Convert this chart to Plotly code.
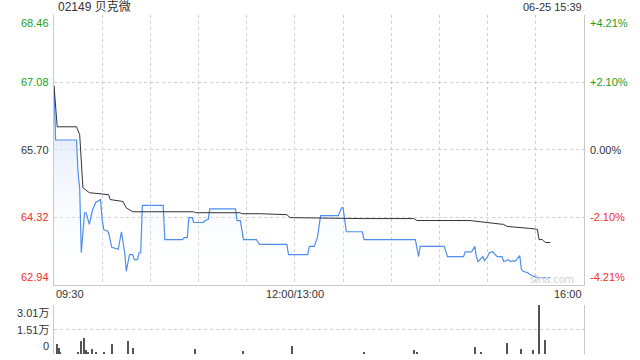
import plotly.graph_objects as go

# ---------------- data ----------------
title_text = "02149 贝克微"
stamp_text = "06-25 15:39"
prev_close = 65.70

# minutes since 09:30 (trading minutes, lunch break removed)
price_min = [0, 1, 14, 15, 16, 17, 19, 20, 22, 24, 26, 27, 29, 30, 31, 33, 34, 36, 40, 42,
             43, 44, 45, 47, 49, 50, 52, 53, 54, 55, 68, 69, 80, 81, 83, 84, 86, 87, 93, 94,
             96, 97, 113, 114, 116, 118, 126, 128, 145, 146, 158, 159, 162, 164, 166, 177, 179, 180, 182, 192,
             193, 225, 227, 228, 243, 245, 255, 256, 260, 262, 263, 264, 267, 268, 270, 271, 273, 276, 279, 280,
             283, 284, 286, 287, 288, 290, 291, 292, 295, 296, 298, 301, 309]
price_val = [67.01, 65.90, 65.90, 65.23, 64.90, 63.59, 64.41, 64.41, 64.17, 64.47, 64.62, 64.64, 64.68, 64.27, 64.06, 64.04, 64.00, 63.70, 63.66, 64.02,
             63.80, 63.59, 63.21, 63.55, 63.55, 63.45, 63.45, 63.59, 63.59, 64.56, 64.56, 63.86, 63.86, 63.90, 63.90, 64.31, 64.31, 64.21, 64.21, 64.25,
             64.27, 64.49, 64.49, 64.25, 64.25, 63.86, 63.86, 63.76, 63.76, 63.55, 63.55, 63.72, 63.72, 63.90, 64.35, 64.35, 64.51, 64.51, 64.02, 64.02,
             63.86, 63.86, 63.51, 63.72, 63.72, 63.51, 63.51, 63.61, 63.61, 63.72, 63.51, 63.41, 63.51, 63.43, 63.51, 63.59, 63.61, 63.51, 63.51, 63.41,
             63.45, 63.41, 63.43, 63.41, 63.45, 63.53, 63.25, 63.21, 63.18, 63.15, 63.12, 63.08, 63.08]

avg_min = [0, 2, 14, 15, 16, 18, 22, 34, 35, 43, 45, 49, 87, 88, 116, 117, 128, 145, 147, 192,
           224, 226, 259, 280, 282, 296, 301, 302, 304, 306, 309]
avg_val = [67.01, 66.17, 66.17, 66.07, 66.01, 64.92, 64.82, 64.78, 64.68, 64.64, 64.51, 64.43, 64.43, 64.41, 64.41, 64.39, 64.39, 64.37, 64.31, 64.29,
           64.29, 64.25, 64.25, 64.17, 64.13, 64.09, 64.07, 63.86, 63.86, 63.80, 63.80]

vol_min = [2, 3, 4, 15, 17, 19, 20, 21, 24, 26, 31, 36, 46, 49, 88, 118, 148, 193, 224, 226,
           262, 266, 282, 291, 298, 302, 306]
vol_val = [6100, 3700, 1000, 1500, 8000, 9800, 2500, 1200, 3000, 800, 1000, 6100, 8000, 3700, 3000, 1800, 4900, 1500, 2500, 1200,
           4300, 1200, 6800, 3000, 2500, 30100, 8600]

price_ticks = [68.46, 67.08, 65.70, 64.32, 62.94]
pct_ticks = ["+4.21%", "+2.10%", "0.00%", "-2.10%", "-4.21%"]
vol_ticks = [30100, 15050, 0]
vol_tick_text = ["3.01万", "1.51万", "0"]
time_labels = ["09:30", "12:00/13:00", "16:00"]
time_label_pos = [0, 150, 330]

# ---------------- figure ----------------
X0, X1 = 54 / 640, 584 / 640
MAIN_D = [(360 - 284.5) / 360, (360 - 15) / 360]
VOL_D = [(360 - 354) / 360, (360 - 305) / 360]
FONT = "Liberation Sans, Arial, Noto Sans CJK SC, sans-serif"
GREEN, RED, DARK = "#1a9e1a", "#f0302a", "#333333"
GRID = "#cfcfcf"

fig = go.Figure()

fig.add_trace(go.Scatter(
    x=price_min, y=price_val, mode="lines",
    line=dict(color="#4d8ef0", width=1.2),
    fill="tozeroy",
    fillgradient=dict(type="vertical", start=price_ticks[-1], stop=price_val[0],
                      colorscale=[[0, "rgba(255,255,255,0)"], [1, "rgba(205,222,250,0.9)"]]),
    hoverinfo="skip", xaxis="x", yaxis="y"))
fig.add_trace(go.Scatter(
    x=avg_min, y=avg_val, mode="lines",
    line=dict(color="#333333", width=1),
    hoverinfo="skip", xaxis="x", yaxis="y"))
fig.add_trace(go.Bar(
    x=vol_min, y=vol_val, width=0.7,
    marker=dict(color="#555555", line=dict(width=0)),
    hoverinfo="skip", xaxis="x2", yaxis="y2"))

fig.update_layout(
    width=640, height=360, margin=dict(l=0, r=0, t=0, b=0),
    paper_bgcolor="white", plot_bgcolor="white", showlegend=False,
    bargap=0,
    xaxis=dict(domain=[X0, X1], range=[0, 330], tickvals=list(range(30, 330, 30)),
               showticklabels=False, ticks="", showgrid=True, gridcolor=GRID, griddash="dot",
               gridwidth=1, zeroline=False, showline=True, linecolor="#c8c8c8", linewidth=1,
               anchor="y"),
    yaxis=dict(domain=MAIN_D, range=[price_ticks[-1], price_ticks[0]],
               tickvals=price_ticks[1:4], showticklabels=False, ticks="",
               showgrid=True, gridcolor=GRID, griddash="dot", gridwidth=1, zeroline=False,
               showline=True, linecolor="#c8c8c8", linewidth=1, mirror=True, anchor="x"),
    xaxis2=dict(domain=[X0, X1], range=[0, 330], showticklabels=False, ticks="",
                showgrid=False, zeroline=False, showline=False, anchor="y2"),
    yaxis2=dict(domain=VOL_D, range=[0, 30100], tickvals=vol_ticks[:2], showticklabels=False,
                ticks="", showgrid=True, gridcolor=GRID, griddash="dot", gridwidth=1,
                zeroline=False, showline=True, linecolor="#c8c8c8", linewidth=1, mirror=True,
                anchor="x2"),
)

ann = []
# title and timestamp
ann.append(dict(text=title_text, x=X0 + 2 / 640, y=1 - 7 / 360, xref="paper", yref="paper",
                xanchor="left", yanchor="middle", showarrow=False,
                font=dict(family=FONT, size=12, color=DARK)))
ann.append(dict(text=stamp_text, x=X1, y=1 - 7 / 360, xref="paper", yref="paper",
                xanchor="right", yanchor="middle", showarrow=False,
                font=dict(family=FONT, size=11, color=DARK)))
# price / percent labels
for i, (p, pc) in enumerate(zip(price_ticks, pct_ticks)):
    col = GREEN if p > prev_close + 1e-9 else (RED if p < prev_close - 1e-9 else DARK)
    ya = "top" if i == 0 else ("bottom" if i == len(price_ticks) - 1 else "middle")
    ann.append(dict(text=f"{p:.2f}", x=X0 - 3 / 640, y=p, xref="paper", yref="y",
                    xanchor="right", yanchor=ya, showarrow=False,
                    font=dict(family=FONT, size=11, color=col)))
    ann.append(dict(text=pc, x=X1 + 4 / 640, y=p, xref="paper", yref="y",
                    xanchor="left", yanchor=ya, showarrow=False,
                    font=dict(family=FONT, size=11, color=col)))
# volume labels
for i, (v, t) in enumerate(zip(vol_ticks, vol_tick_text)):
    ya = "top" if i == 0 else ("bottom" if i == len(vol_ticks) - 1 else "middle")
    ann.append(dict(text=t, x=X0 - 3 / 640, y=v, xref="paper", yref="y2",
                    xanchor="right", yanchor=ya, showarrow=False,
                    font=dict(family=FONT, size=11, color=DARK)))
# time labels
for t, m in zip(time_labels, time_label_pos):
    xa = "left" if m == 0 else ("right" if m == 330 else "center")
    ann.append(dict(text=t, x=m, y=1 - 294 / 360, xref="x", yref="paper",
                    xanchor=xa, yanchor="middle", showarrow=False,
                    font=dict(family=FONT, size=11, color=DARK)))
# watermark
ann.append(dict(text="sina.com", x=X1 - 8 / 640, y=1 - 279 / 360, xref="paper", yref="paper",
                xanchor="right", yanchor="middle", showarrow=False,
                font=dict(family=FONT, size=11, color="#d4d4d4")))
fig.update_layout(annotations=ann)

fig.write_html("out.html")
